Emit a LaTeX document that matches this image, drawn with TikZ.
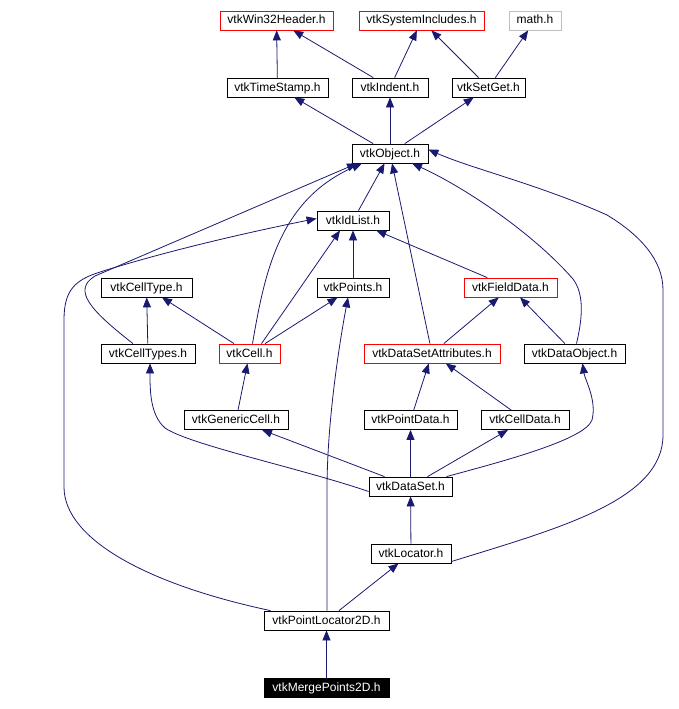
\documentclass[tikz,border=0pt]{standalone}
\usepackage{fontspec}
\setmainfont{Liberation Sans}
\usetikzlibrary{arrows.meta}
\definecolor{edgeblue}{HTML}{191970}
\tikzset{
    hdr/.style={draw=black,line width=.8pt,fill=white,minimum height=19pt,inner sep=0pt,
        text height=9.5pt,text depth=2.5pt,font=\fontsize{12}{14}\selectfont},
    hdrred/.style={hdr,draw=red},
    dep/.style={draw=edgeblue,line width=.8pt,-{Triangle[length=10pt,width=8pt]}}
}
\begin{document}
\begin{tikzpicture}[x=1pt,y=-1pt]
        \useasboundingbox (0,0) rectangle (678,709);
        \node[hdrred,minimum width=113] (win32) at (276.5,20.5) {vtkWin32Header.h};
        \node[hdrred,minimum width=125] (sysinc) at (421.5,20.5) {vtkSystemIncludes.h};
        \node[hdr,draw=gray!50,minimum width=52] (math) at (535,20.5) {math.h};
        \node[hdr,minimum width=101] (timestamp) at (277.5,87.5) {vtkTimeStamp.h};
        \node[hdr,minimum width=76] (indent) at (390,87.5) {vtkIndent.h};
        \node[hdr,minimum width=73] (setget) at (488.5,87.5) {vtkSetGet.h};
        \node[hdr,minimum width=76] (object) at (390,153.5) {vtkObject.h};
        \node[hdr,minimum width=72] (idlist) at (353,220.5) {vtkIdList.h};
        \node[hdr,minimum width=91] (celltype) at (146.5,287.5) {vtkCellType.h};
        \node[hdr,minimum width=72] (points) at (353,287.5) {vtkPoints.h};
        \node[hdrred,minimum width=93] (fielddata) at (510.5,287.5) {vtkFieldData.h};
        \node[hdr,minimum width=94] (celltypes) at (148,353.5) {vtkCellTypes.h};
        \node[hdrred,minimum width=61] (cell) at (249.5,353.5) {vtkCell.h};
        \node[hdrred,minimum width=136] (dsattr) at (432,353.5) {vtkDataSetAttributes.h};
        \node[hdr,minimum width=101] (dataobject) at (574.5,353.5) {vtkDataObject.h};
        \node[hdr,minimum width=104] (genericcell) at (236,420) {vtkGenericCell.h};
        \node[hdr,minimum width=93] (pointdata) at (410.5,420) {vtkPointData.h};
        \node[hdr,minimum width=88] (celldata) at (525,420) {vtkCellData.h};
        \node[hdr,minimum width=83] (dataset) at (410.5,486.5) {vtkDataSet.h};
        \node[hdr,minimum width=80] (locator) at (411,553.5) {vtkLocator.h};
        \node[hdr,minimum width=125] (plocator) at (326.5,620.5) {vtkPointLocator2D.h};
        \node[hdr,fill=black,text=white,minimum width=125] (merge) at (326.5,687.5) {vtkMergePoints2D.h};
        \foreach \a/\b in {timestamp/win32,indent/win32,indent/sysinc,setget/sysinc,setget/math,
                object/timestamp,object/indent,object/setget,idlist/object,dsattr/object,
                points/idlist,fielddata/idlist,celltypes/celltype,cell/celltype,cell/points,
                dsattr/fielddata,dataobject/fielddata,genericcell/cell,pointdata/dsattr,celldata/dsattr,
                dataset/genericcell,dataset/pointdata,dataset/celldata,locator/dataset,plocator/locator,merge/plocator}
            \draw[dep] (\a) -- (\b);
        \draw[dep] ([xshift=12]cell.north) -- ([xshift=-13]idlist.south);
        \draw[dep] ([xshift=3]cell.north) .. controls (265,270) and (280,200) .. ([xshift=-28]object.south);
        \draw[dep] ([xshift=-15]celltypes.north) .. controls (90,310) and (72,290) .. (95,276) -- ([xshift=-33]object.south);
        \draw[dep] ([xshift=-56]plocator.north) .. controls (150,585) and (64,540) .. (64,487) -- (64,320)
            .. controls (64,290) and (75,280) .. (100,272) .. controls (170,250) and (250,232) .. ([yshift=2]idlist.west);
        \draw[dep] ([xshift=2]dataobject.north) .. controls (582,320) and (585,295) .. (573,279)
            .. controls (530,230) and (460,185) .. ([xshift=22]object.south);
        \draw[dep] ([yshift=-8]locator.east) .. controls (560,528) and (663,500) .. (663,435) -- (663,290)
            .. controls (663,260) and (640,235) .. (607,215) .. controls (540,185) and (470,168) .. ([yshift=4]object.east);
        \draw[dep] ([yshift=-5]dataset.west) .. controls (300,468) and (190,445) .. (165,428)
            .. controls (150,415) and (150,390) .. ([xshift=2]celltypes.south);
        \draw[dep] ([xshift=36]dataset.north) .. controls (500,462) and (585,440) .. (592,420)
            .. controls (597,400) and (585,380) .. ([xshift=8]dataobject.south);
        \draw[dep] ([xshift=0.5]plocator.north) -- (327,490) .. controls (327,420) and (340,340) .. ([xshift=-5]points.south);
    \end{tikzpicture}
\end{document}
